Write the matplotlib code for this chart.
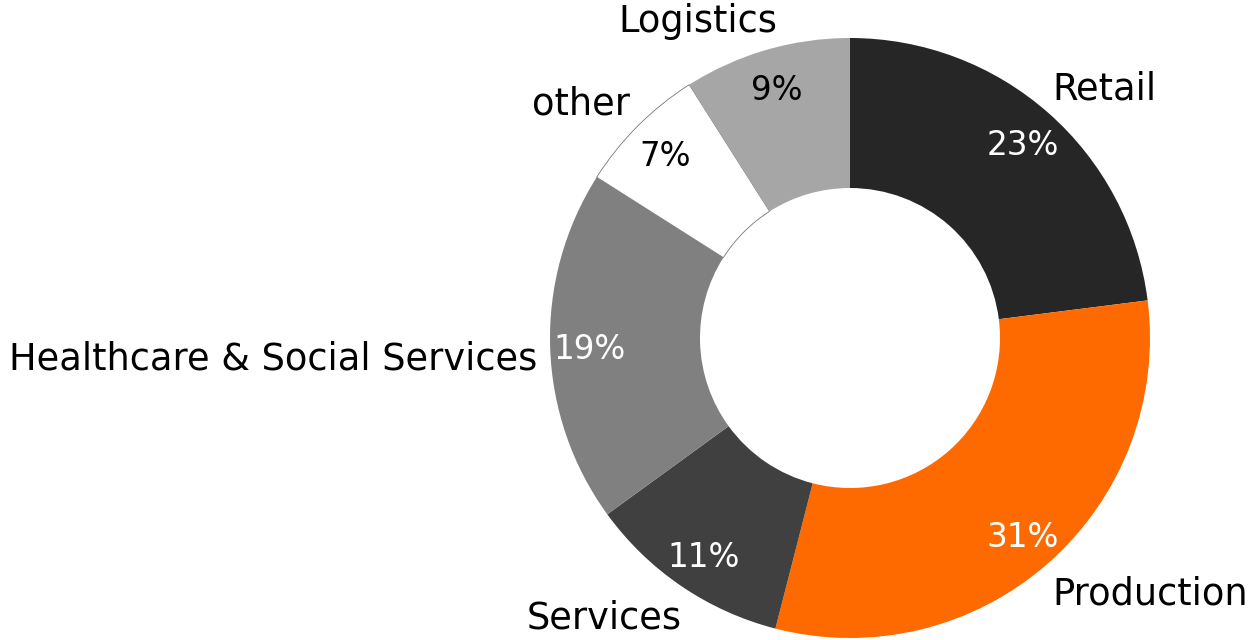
import numpy as np
import matplotlib.pyplot as plt

sectors = ['Retail', 'Production', 'Services', 'Healthcare & Social Services', 'other', 'Logistics']
shares = [23, 31, 11, 19, 7, 9]
colors = ['#262626', '#ff6a00', '#404040', '#808080', '#ffffff', '#a6a6a6']
pct_colors = ['white', 'white', 'white', 'white', 'black', 'black']

# where each category name sits (axes data units, radius 1 = outer ring)
label_xy = [(0.673, 0.845), (0.673, -0.84), (-0.56, -0.92),
            (-1.043, -0.057), (-0.733, 0.793), (-0.507, 1.067)]
label_ha = ['left', 'left', 'right', 'right', 'right', 'center']

plt.rcParams['font.family'] = ['DejaVu Sans']

fig = plt.figure(figsize=(12.55, 6.4), dpi=100)
# square axes, 600 px across, centred on the ring
ax = fig.add_axes([550 / 1255, 2 / 640, 600 / 1255, 600 / 640])

wedges, _, autotexts = ax.pie(
    shares, colors=colors, startangle=90, counterclock=False,
    autopct='%d%%', pctdistance=0.87,
    wedgeprops=dict(width=0.5, linewidth=0),
    textprops=dict(fontsize=23.5))

# thin outline so the white slice is visible
wedges[4].set_edgecolor('#777777')
wedges[4].set_linewidth(0.6)

for t, c in zip(autotexts, pct_colors):
    t.set_color(c)
    t.set_va('center_baseline')

for name, (x, y), ha in zip(sectors, label_xy, label_ha):
    ax.text(x, y, name, ha=ha, va='center_baseline', fontsize=26.5)

ax.set_xlim(-1, 1)
ax.set_ylim(-1, 1)
ax.set_aspect('equal')

fig.savefig('out.png', dpi=100)
